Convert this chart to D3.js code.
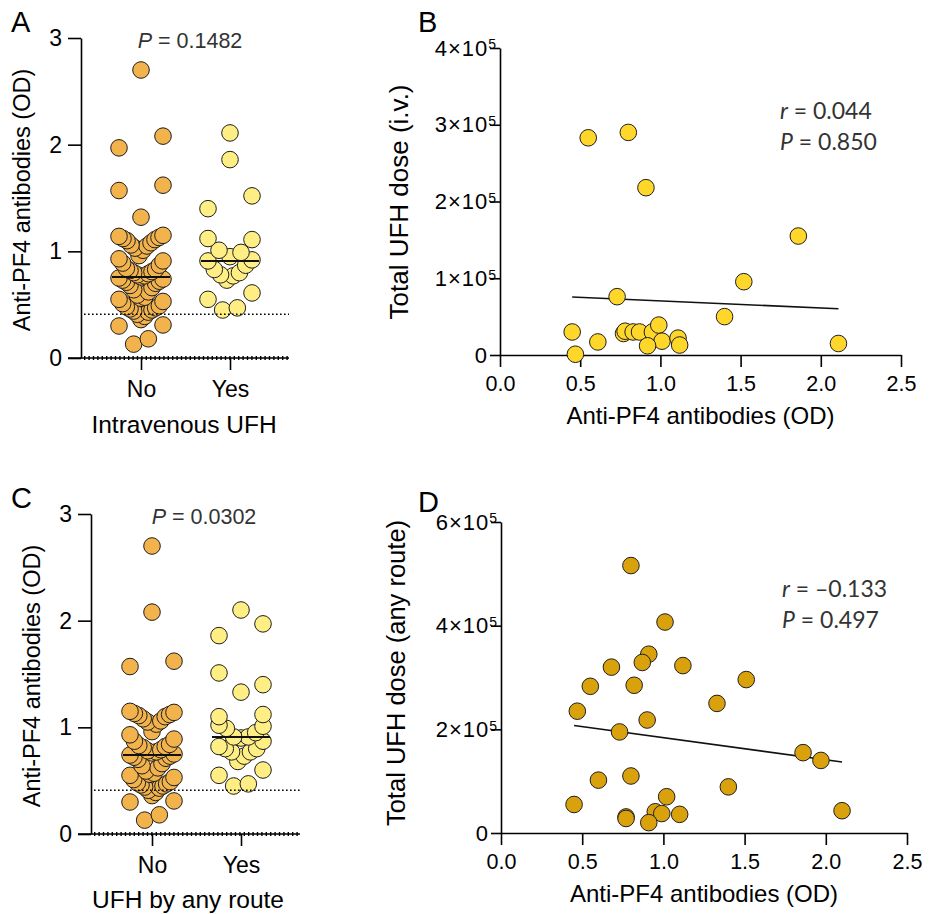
<!DOCTYPE html>
<html lang="en">
<head>
<meta charset="utf-8"/>
<title>Anti-PF4 antibodies and UFH</title>
<script src="https://cdn.jsdelivr.net/npm/d3@7/dist/d3.min.js"></script>
<style>
  html, body { margin:0; padding:0; background:#fff; }
  svg { display:block; font-family:"Liberation Sans", Arial, sans-serif; }
  .stat { font-family:Lato, "Open Sans", sans-serif; fill:#333; font-size:23px; }
</style>
</head>
<body>
<svg width="941" height="914"></svg>
<script>
// ---- data ----
const groups = ["No", "Yes"];
const cutoff = 0.41;

// A: intravenous UFH (anti-PF4 OD)
const ivNo = [2.70, 2.08, 1.97, 1.62, 1.57, 1.32, 1.15, 1.14, 1.13, 1.12, 1.11, 1.10, 1.08, 1.06,
  1.05, 1.03, 1.01, 0.96, 0.93, 0.91, 0.89, 0.87, 0.84, 0.83, 0.82, 0.81, 0.80, 0.79, 0.78, 0.77,
  0.76, 0.75, 0.74, 0.73, 0.72, 0.71, 0.70, 0.68, 0.66, 0.64, 0.62, 0.59, 0.57, 0.56, 0.55, 0.53,
  0.51, 0.49, 0.48, 0.47, 0.46, 0.45, 0.44, 0.43, 0.41, 0.39, 0.36, 0.31, 0.30, 0.18, 0.13];
const ivYes = [0.45, 0.47, 0.55, 0.61, 0.73, 0.77, 0.78, 0.80, 0.83, 0.87, 0.91, 0.92, 0.95, 0.99,
  1.01, 1.11, 1.12, 1.40, 1.52, 1.86, 2.11];

// C: UFH by any route
const anyNo = [2.70, 2.08, 1.62, 1.57, 1.15, 1.14, 1.13, 1.12, 1.11, 1.10, 1.08, 1.06, 1.05, 1.03,
  0.96, 0.93, 0.89, 0.87, 0.84, 0.83, 0.82, 0.81, 0.79, 0.78, 0.77, 0.76, 0.75, 0.74, 0.73, 0.72,
  0.71, 0.70, 0.66, 0.64, 0.62, 0.59, 0.57, 0.56, 0.55, 0.53, 0.51, 0.49, 0.48, 0.47, 0.46, 0.45,
  0.44, 0.43, 0.41, 0.39, 0.36, 0.31, 0.30, 0.18, 0.13];
const anyYes = [0.45, 0.47, 0.55, 0.60, 0.68, 0.73, 0.77, 0.77, 0.80, 0.80, 0.82, 0.87, 0.90, 0.91,
  0.91, 0.95, 0.99, 1.01, 1.02, 1.10, 1.12, 1.33, 1.40, 1.51, 1.86, 1.97, 2.10];

// B: total UFH dose (i.v.) vs OD
const bOD   = [0.55, 0.80, 0.91, 1.86, 1.52, 0.73, 1.40, 0.45, 0.47, 0.61, 0.77, 0.78, 0.83, 0.87,
  0.95, 0.99, 1.01, 0.92, 1.11, 1.12, 2.11];
const bDose = [283000, 290000, 218000, 155000, 95500, 76000, 50000, 30000, 1000, 17000, 28000,
  31000, 30000, 30000, 30000, 39000, 18000, 12000, 22000, 13000, 15000];
const bFitX = [0.45, 2.11];
const bFitY = [75600, 60300];

// D: total UFH dose (any route) vs OD
const dOD   = [0.80, 1.01, 0.91, 0.87, 0.68, 1.12, 0.55, 0.82, 1.51, 1.33, 0.47, 0.90, 0.73, 1.86,
  1.97, 0.80, 0.60, 1.40, 1.02, 0.45, 2.10, 0.95, 0.99, 1.10, 0.77, 0.77, 0.91];
const dDose = [516000, 407000, 345000, 329000, 320000, 323000, 283000, 285000, 296000, 250000,
  235000, 218000, 195000, 155000, 140000, 110000, 102000, 89000, 70000, 55000, 43000, 41000,
  37500, 36000, 31000, 28000, 20000];
const dFitX = [0.45, 2.10];
const dFitY = [207500, 137000];

const xTicks = [0, 0.5, 1.0, 1.5, 2.0, 2.5];

// ---- drawing ----
const svg = d3.select("svg");
const R = 8.3;

// scatter-dot layout: points are grouped in bands (from the lowest point up),
// then spread by rank over the full column width -> V shaped rows
function swarm(values, y, maxW, band) {
  const pts = values.map(v => ({ v, y: y(v) })).sort((a, b) => a.v - b.v);
  let i = 0;
  while (i < pts.length) {
    const y0 = pts[i].y;
    let j = i;
    while (j < pts.length && y0 - pts[j].y < band) j++;
    const row = pts.slice(i, j), n = row.length;
    const s = n > 1 ? 2 * maxW / (n - 1) : 0;
    row.forEach((p, k) => {
      if (n % 2) p.x = k === 0 ? 0 : (k % 2 ? 1 : -1) * Math.ceil(k / 2) * s;
      else p.x = (k % 2 ? 1 : -1) * (Math.floor(k / 2) + 0.5) * s;
    });
    i = j;
  }
  return pts;
}

function styleAxis(a, fs) {
  a.attr("font-family", null).attr("font-size", fs);
  a.selectAll(".domain, .tick line").attr("stroke", "#000").attr("stroke-width", 1.6);
  a.selectAll(".tick text").attr("fill", "#000");
}

function dotPanel(o) {
  const g = svg.append("g");
  const y = d3.scaleLinear().domain([0, 3]).range([o.bottom, o.top]);
  const x = d3.scalePoint().domain(groups).range(o.cats);

  g.append("g").attr("transform", `translate(${o.left},0)`)
    .call(d3.axisLeft(y).tickValues([0, 1, 2, 3]).tickFormat(d3.format("d"))
      .tickSize(13).tickSizeOuter(0).tickPadding(6))
    .call(a => styleAxis(a, 23));

  g.append("g").attr("transform", `translate(0,${o.bottom})`)
    .call(d3.axisBottom(x).tickSize(12).tickPadding(11).tickSizeOuter(0))
    .call(a => styleAxis(a, 23))
    .call(a => a.select(".domain").remove());

  g.append("line").attr("x1", o.left - 13).attr("x2", o.right)
    .attr("y1", o.bottom).attr("y2", o.bottom).attr("stroke", "#000").attr("stroke-width", 1.6);

  [o.no, o.yes].forEach((vals, i) => {
    const cx = x(groups[i]);
    const pts = swarm(vals, y, 22, 20.5);
    g.append("g").selectAll("circle").data(pts).join("circle")
      .attr("cx", d => cx + d.x).attr("cy", d => d.y).attr("r", R)
      .attr("fill", o.fills[i]).attr("stroke", "#1e1e1e").attr("stroke-width", 1);
    const m = y(d3.median(vals));
    g.append("line").attr("x1", cx - 29).attr("x2", cx + 29).attr("y1", m).attr("y2", m)
      .attr("stroke", "#111").attr("stroke-width", 2);
  });

  // reference lines
  g.append("line").attr("x1", o.left + 3).attr("x2", o.right)
    .attr("y1", y(cutoff)).attr("y2", y(cutoff))
    .attr("stroke", "#000").attr("stroke-width", 1.6).attr("stroke-dasharray", "1.6 2.4");
  g.append("line").attr("x1", o.left + 3).attr("x2", o.right)
    .attr("y1", y(0)).attr("y2", y(0))
    .attr("stroke", "#000").attr("stroke-width", 3.8).attr("stroke-dasharray", "1.4 3");

  const pt = g.append("text").attr("x", o.pX).attr("y", o.top + 10).attr("text-anchor", "middle")
    .attr("font-size", 21.5).attr("fill", "#333");
  pt.append("tspan").attr("font-style", "italic").text("P");
  pt.append("tspan").text(" = " + o.p);

  g.append("text").attr("x", o.titleX).attr("y", o.titleY).attr("text-anchor", "middle")
    .attr("font-size", 24.5).text(o.title);
  g.append("text").attr("transform", `translate(${o.ylabX},${o.ylabY}) rotate(-90)`)
    .attr("text-anchor", "middle").attr("font-size", 23.5).text("Anti-PF4 antibodies (OD)");
  g.append("text").attr("x", 11).attr("y", o.letterY).attr("font-size", 29).text(o.letter);
}

// "n×10^e" labels with a raised exponent
function supLabels(a) {
  a.selectAll(".tick text").each(function (d) {
    const t = d3.select(this);
    t.text(null);
    if (d === 0) { t.attr("x", -13).text("0"); return; }
    const e = Math.floor(Math.log10(d)), m = Math.round(d / 10 ** e);
    t.attr("x", -4);
    t.append("tspan").attr("letter-spacing", 1).text(m + "\u00d710");
    t.append("tspan").attr("dy", "-0.45em").attr("font-size", 14).text(e);
  });
}

function scatterPanel(o) {
  const g = svg.append("g");
  const x = d3.scaleLinear().domain([0, 2.5]).range([o.left, o.right]);
  const y = d3.scaleLinear().domain([0, o.yMax]).range([o.bottom, o.top]);

  g.append("g").attr("transform", `translate(${o.left},0)`)
    .call(d3.axisLeft(y).tickValues(o.yTicks).tickSize(10).tickSizeOuter(0).tickPadding(3))
    .call(a => styleAxis(a, 22))
    .call(supLabels);

  g.append("g").attr("transform", `translate(0,${o.bottom})`)
    .call(d3.axisBottom(x).tickValues(xTicks).tickFormat(d3.format(".1f"))
      .tickSize(12).tickSizeOuter(0).tickPadding(9))
    .call(a => styleAxis(a, 21.5));

  g.append("line")
    .attr("x1", x(o.fitX[0])).attr("y1", y(o.fitY[0]))
    .attr("x2", x(o.fitX[1])).attr("y2", y(o.fitY[1]))
    .attr("stroke", "#111").attr("stroke-width", 1.6);

  g.append("g").selectAll("circle").data(o.od.map((v, i) => [v, o.dose[i]])).join("circle")
    .attr("cx", d => x(d[0])).attr("cy", d => y(d[1])).attr("r", R)
    .attr("fill", o.fill).attr("stroke", "#1e1e1e").attr("stroke-width", 1);

  const s = g.append("g").attr("class", "stat");
  const t1 = s.append("text").attr("x", o.statX).attr("y", o.statY);
  t1.append("tspan").attr("font-style", "italic").text("r");
  t1.append("tspan").text(" = " + o.r);
  const t2 = s.append("text").attr("x", o.statX).attr("y", o.statY + 31);
  t2.append("tspan").attr("font-style", "italic").text("P");
  t2.append("tspan").text(" = " + o.p);

  g.append("text").attr("x", (o.left + o.right) / 2).attr("y", o.bottom + 69)
    .attr("text-anchor", "middle").attr("font-size", 24).text("Anti-PF4 antibodies (OD)");
  g.append("text").attr("transform", `translate(${o.ylabX},${o.ylabY}) rotate(-90)`)
    .attr("text-anchor", "middle").attr("font-size", o.ylabSize).text(o.ylab);
  g.append("text").attr("x", 418).attr("y", o.letterY).attr("font-size", 29).text(o.letter);
}

dotPanel({
  left: 81, right: 289, top: 38, bottom: 358, cats: [141, 230],
  no: ivNo, yes: ivYes, fills: ["#F2B24C", "#FFEE84"],
  p: "0.1482", pX: 190, title: "Intravenous UFH", titleX: 184, titleY: 433,
  ylabX: 30, ylabY: 200, letter: "A", letterY: 32
});

dotPanel({
  left: 91, right: 300, top: 514, bottom: 834, cats: [152, 241],
  no: anyNo, yes: anyYes, fills: ["#F2B24C", "#FFEE84"],
  p: "0.0302", pX: 204, title: "UFH by any route", titleX: 188, titleY: 908,
  ylabX: 40, ylabY: 676, letter: "C", letterY: 508
});

scatterPanel({
  left: 500, right: 901, top: 48, bottom: 355, yMax: 400000,
  yTicks: [0, 100000, 200000, 300000, 400000],
  od: bOD, dose: bDose, fitX: bFitX, fitY: bFitY, fill: "#FFD72A",
  r: "0.044", p: "0.850", statX: 780, statY: 119,
  ylab: "Total UFH dose (i.v.)", ylabSize: 26, ylabX: 408, ylabY: 202, letter: "B", letterY: 32
});

scatterPanel({
  left: 501, right: 907, top: 522, bottom: 833, yMax: 600000,
  yTicks: [0, 200000, 400000, 600000],
  od: dOD, dose: dDose, fitX: dFitX, fitY: dFitY, fill: "#D9A20C",
  r: "\u20130.133", p: "0.497", statX: 782, statY: 597,
  ylab: "Total UFH dose (any route)", ylabSize: 25.5, ylabX: 405, ylabY: 673, letter: "D", letterY: 512
});
</script>
</body>
</html>
